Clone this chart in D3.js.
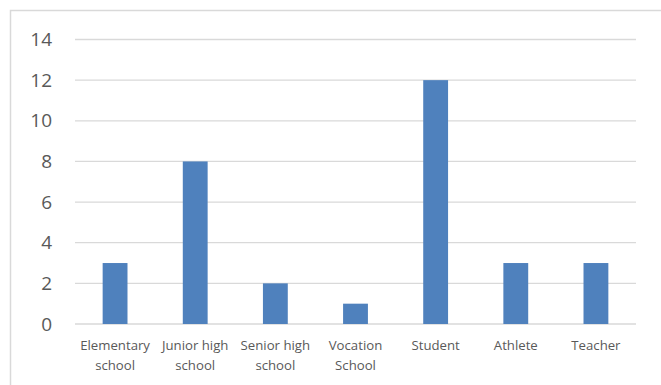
<!DOCTYPE html>
<html>
<head>
<meta charset="utf-8">
<script src="https://cdn.jsdelivr.net/npm/d3@7"></script>
<style>
  body { margin: 0; background: #fff; }
  svg { display: block; }
  text { font-family: "Open Sans", "Noto Sans", sans-serif; fill: #595959; }
</style>
</head>
<body>
<div id="chart"></div>
<script>
// categories (two-line labels) and the counts
var categories = ["Elementary school", "Junior high school", "Senior high school", "Vocation School", "Student", "Athlete", "Teacher"];
var labelLines = [["Elementary", "school"], ["Junior high", "school"], ["Senior high", "school"], ["Vocation", "School"], ["Student"], ["Athlete"], ["Teacher"]];
var counts = [3, 8, 2, 1, 12, 3, 3];
var yTicks = [0, 2, 4, 6, 8, 10, 12, 14];

var svgWidth = 661, svgHeight = 385;
var margin = { top: 39.5, bottom: 61, left: 75, right: 25 };
var width = svgWidth - margin.left - margin.right;
var height = svgHeight - margin.top - margin.bottom;

var svg = d3.select("#chart").append("svg").attr("width", svgWidth).attr("height", svgHeight);

// chart area border (runs off the right/bottom edge like the original)
svg.append("rect")
  .attr("x", 10.5).attr("y", 10.5)
  .attr("width", 700).attr("height", 400)
  .attr("fill", "none").attr("stroke", "#d9d9d9").attr("stroke-width", 1.5);

var chartGroup = svg.append("g").attr("transform", `translate(${margin.left}, ${margin.top})`);

var xScale = d3.scaleBand().domain(categories).range([0, width]).paddingInner(0.69).paddingOuter(0.345);
var yScale = d3.scaleLinear().domain([0, 14]).range([height, 0]);

// gridlines
chartGroup.append("g").selectAll("line")
  .data(yTicks).enter().append("line")
  .attr("x1", 0).attr("x2", width)
  .attr("y1", d => yScale(d)).attr("y2", d => yScale(d))
  .attr("stroke", "#d9d9d9").attr("stroke-width", 1.3);

// y axis labels
var yAxis = d3.axisLeft(yScale).tickValues(yTicks).tickSize(0).tickPadding(23);
var yg = chartGroup.append("g").call(yAxis);
yg.select(".domain").remove();
yg.selectAll("text").attr("font-size", 19).attr("fill", "#595959").style("font-family", '"Open Sans", sans-serif');

// bars
chartGroup.append("g").selectAll("rect")
  .data(counts).enter().append("rect")
  .attr("x", (d, i) => xScale(categories[i]))
  .attr("y", d => yScale(d))
  .attr("width", xScale.bandwidth())
  .attr("height", d => height - yScale(d))
  .attr("fill", "#4f81bd");

// x labels, wrapped on two lines
var xl = chartGroup.append("g").selectAll("text")
  .data(categories).enter().append("text")
  .attr("x", d => xScale(d) + xScale.bandwidth() / 2)
  .attr("y", height + 26)
  .attr("text-anchor", "middle")
  .attr("font-size", 13.2);
xl.each(function(d, i) {
  var t = d3.select(this);
  labelLines[i].forEach(function(line, j) {
    t.append("tspan").attr("x", xScale(d) + xScale.bandwidth() / 2).attr("dy", j === 0 ? 0 : 19.5).text(line);
  });
});
</script>
</body>
</html>
